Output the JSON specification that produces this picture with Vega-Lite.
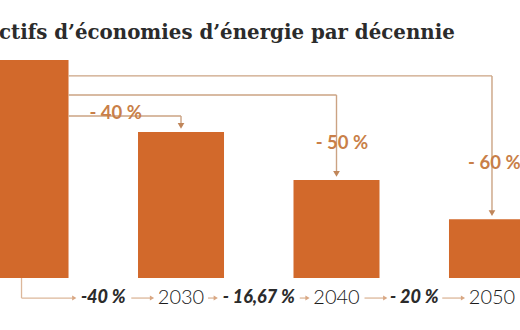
{
  "$schema": "https://vega.github.io/schema/vega-lite/v6.json",
  "width": 520,
  "height": 330,
  "autosize": {"type": "none"},
  "padding": 0,
  "background": "white",
  "config": {"view": {"stroke": null}, "axis": {"disable": true}},
  "datasets": {
    "consommation": [
      {"annee": 2020, "indice": 100},
      {"annee": 2030, "indice": 67},
      {"annee": 2040, "indice": 45},
      {"annee": 2050, "indice": 27}
    ],
    "objectifs": [
      {"depart": 2020, "annee": 2030, "baisse": "- 40 %", "palier": 74.3, "lx": 2025.8, "ly": 75.7},
      {"depart": 2020, "annee": 2040, "baisse": "- 50 %", "palier": 83.9, "lx": 2040.35, "ly": 61.9},
      {"depart": 2020, "annee": 2050, "baisse": "- 60 %", "palier": 92.7, "lx": 2050.15, "ly": 52.8}
    ],
    "frise": [
      {"annee": 2025, "texte": "-40 %", "nature": "taux"},
      {"annee": 2030, "texte": "2030", "nature": "annee"},
      {"annee": 2035, "texte": "- 16,67 %", "nature": "taux"},
      {"annee": 2040, "texte": "2040", "nature": "annee"},
      {"annee": 2045, "texte": "- 20 %", "nature": "taux"},
      {"annee": 2050, "texte": "2050", "nature": "annee"}
    ],
    "titre": [
      {"texte": "ctifs d’économies d’énergie par décennie"}
    ]
  },
  "encoding": {
    "x": {"type": "quantitative", "scale": {"domain": [2018.68, 2051.48], "nice": false, "zero": false}},
    "y": {"type": "quantitative", "scale": {"domain": [-23.85, 127.5], "nice": false, "zero": false}}
  },
  "layer": [
    {
      "data": {"name": "titre"},
      "mark": {"type": "text", "font": "DejaVu Serif", "fontSize": 19.8, "fontWeight": "bold", "color": "#2b2b2b", "align": "left", "baseline": "alphabetic", "dx": -6},
      "encoding": {
        "x": {"datum": 2018.68},
        "y": {"datum": 109.6},
        "text": {"field": "texte"}
      }
    },
    {
      "data": {"name": "consommation"},
      "mark": {"type": "bar", "width": 86, "color": "#d2692b"},
      "encoding": {
        "x": {"field": "annee", "type": "quantitative"},
        "y": {"field": "indice", "type": "quantitative"},
        "y2": {"datum": 0}
      }
    },
    {
      "data": {"name": "objectifs"},
      "mark": {"type": "rule", "color": "#cba383", "strokeWidth": 1.4, "xOffset": 43},
      "encoding": {
        "x": {"field": "depart", "type": "quantitative"},
        "x2": {"field": "annee"},
        "y": {"field": "palier", "type": "quantitative"}
      }
    },
    {
      "data": {"name": "objectifs"},
      "transform": [{"lookup": "annee", "from": {"data": {"name": "consommation"}, "key": "annee", "fields": ["indice"]}}],
      "mark": {"type": "rule", "color": "#cba383", "strokeWidth": 1.4, "y2Offset": -6},
      "encoding": {
        "x": {"field": "annee", "type": "quantitative"},
        "y": {"field": "palier", "type": "quantitative"},
        "y2": {"field": "indice"}
      }
    },
    {
      "data": {"name": "objectifs"},
      "transform": [{"lookup": "annee", "from": {"data": {"name": "consommation"}, "key": "annee", "fields": ["indice"]}}],
      "mark": {"type": "point", "shape": "triangle-down", "filled": true, "opacity": 1, "size": 45, "color": "#c0865a", "yOffset": -6},
      "encoding": {
        "x": {"field": "annee", "type": "quantitative"},
        "y": {"field": "indice", "type": "quantitative"}
      }
    },
    {
      "data": {"name": "objectifs"},
      "mark": {"type": "text", "font": "Lato", "fontSize": 18.5, "fontWeight": "bold", "color": "#c97f48", "align": "center", "baseline": "middle"},
      "encoding": {
        "x": {"field": "lx", "type": "quantitative"},
        "y": {"field": "ly", "type": "quantitative"},
        "text": {"field": "baisse"}
      }
    },
    {
      "data": {"name": "consommation"},
      "transform": [{"filter": "datum.annee == 2020"}],
      "mark": {"type": "rule", "color": "#dcb79a", "strokeWidth": 1.3, "xOffset": -4},
      "encoding": {
        "x": {"field": "annee", "type": "quantitative"},
        "y": {"datum": 0},
        "y2": {"datum": -9.2}
      }
    },
    {
      "data": {"name": "consommation"},
      "transform": [{"filter": "datum.annee == 2020"}],
      "mark": {"type": "rule", "color": "#dcb79a", "strokeWidth": 1.3, "xOffset": -4, "x2Offset": -31},
      "encoding": {
        "x": {"field": "annee", "type": "quantitative"},
        "x2": {"datum": 2025},
        "y": {"datum": -9.2}
      }
    },
    {
      "data": {"name": "frise"},
      "transform": [
        {"window": [{"op": "lead", "field": "annee", "as": "suivant"}, {"op": "lead", "field": "texte", "as": "texte_suivant"}], "sort": [{"field": "annee"}]},
        {"filter": "datum.suivant != null && length(datum.texte) <= 6 && length(datum.texte_suivant) <= 6"}
      ],
      "mark": {"type": "rule", "color": "#dcb79a", "strokeWidth": 1.3, "xOffset": 28, "x2Offset": -29},
      "encoding": {
        "x": {"field": "annee", "type": "quantitative"},
        "x2": {"field": "suivant"},
        "y": {"datum": -9.2}
      }
    },
    {
      "data": {"name": "frise"},
      "transform": [
        {"window": [{"op": "lead", "field": "annee", "as": "suivant"}, {"op": "lead", "field": "texte", "as": "texte_suivant"}], "sort": [{"field": "annee"}]},
        {"filter": "datum.suivant != null && length(datum.texte) > 6"}
      ],
      "mark": {"type": "rule", "color": "#dcb79a", "strokeWidth": 1.3, "xOffset": 41, "x2Offset": -29},
      "encoding": {
        "x": {"field": "annee", "type": "quantitative"},
        "x2": {"field": "suivant"},
        "y": {"datum": -9.2}
      }
    },
    {
      "data": {"name": "frise"},
      "transform": [
        {"window": [{"op": "lead", "field": "annee", "as": "suivant"}, {"op": "lead", "field": "texte", "as": "texte_suivant"}], "sort": [{"field": "annee"}]},
        {"filter": "datum.suivant != null && length(datum.texte_suivant) > 6"}
      ],
      "mark": {"type": "rule", "color": "#dcb79a", "strokeWidth": 1.3, "xOffset": 27, "x2Offset": -43},
      "encoding": {
        "x": {"field": "annee", "type": "quantitative"},
        "x2": {"field": "suivant"},
        "y": {"datum": -9.2}
      }
    },
    {
      "data": {"name": "frise"},
      "transform": [{"filter": "length(datum.texte) <= 6"}],
      "mark": {"type": "point", "shape": "triangle-right", "filled": true, "opacity": 1, "size": 24, "color": "#d9a783", "xOffset": -29},
      "encoding": {
        "x": {"field": "annee", "type": "quantitative"},
        "y": {"datum": -9.2}
      }
    },
    {
      "data": {"name": "frise"},
      "transform": [{"filter": "length(datum.texte) > 6"}],
      "mark": {"type": "point", "shape": "triangle-right", "filled": true, "opacity": 1, "size": 24, "color": "#d9a783", "xOffset": -43},
      "encoding": {
        "x": {"field": "annee", "type": "quantitative"},
        "y": {"datum": -9.2}
      }
    },
    {
      "data": {"name": "frise"},
      "transform": [{"filter": "datum.nature == 'annee'"}],
      "mark": {"type": "text", "font": "Lato", "fontSize": 20, "fontWeight": 300, "color": "#1a1a1a", "align": "center", "baseline": "middle"},
      "encoding": {
        "x": {"field": "annee", "type": "quantitative"},
        "y": {"datum": -9.2},
        "text": {"field": "texte"}
      }
    },
    {
      "data": {"name": "frise"},
      "transform": [{"filter": "datum.nature == 'taux'"}],
      "mark": {"type": "text", "font": "Lato", "fontSize": 18, "fontWeight": 900, "fontStyle": "italic", "color": "#2b2b2b", "align": "center", "baseline": "middle"},
      "encoding": {
        "x": {"field": "annee", "type": "quantitative"},
        "y": {"datum": -9.2},
        "text": {"field": "texte"}
      }
    }
  ]
}
